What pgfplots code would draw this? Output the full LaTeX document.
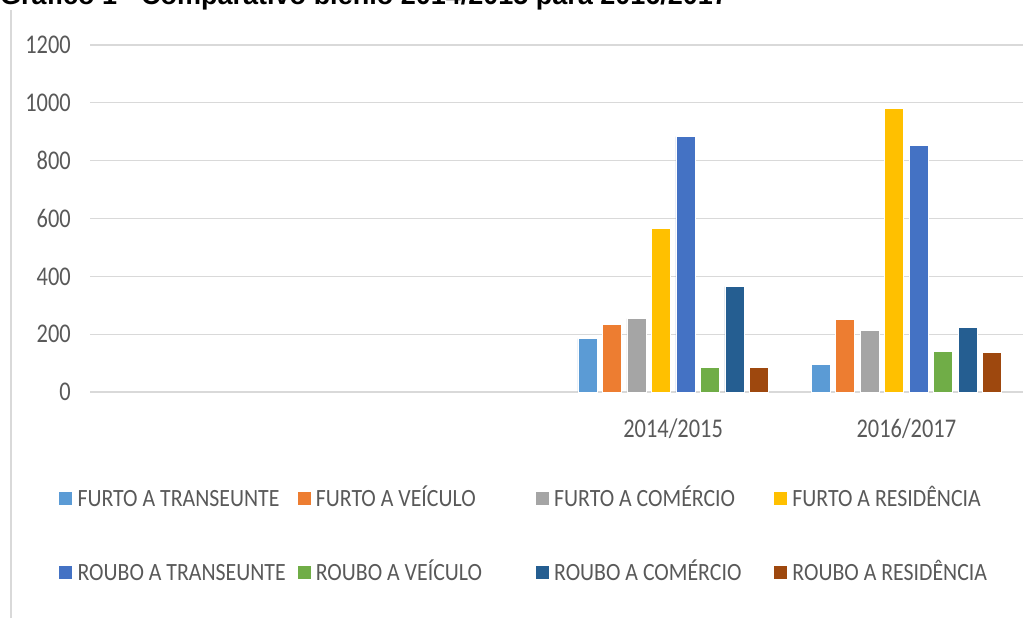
\documentclass[border=0pt]{standalone}
\usepackage{pgfplots}
\pgfplotsset{compat=1.18}
\usepackage{fontspec}
\setmainfont{Carlito}[FakeStretch=0.83]
\newfontfamily\legfont{Carlito}[FakeStretch=0.88]
\newfontfamily\titlefont{Liberation Sans}
\definecolor{cFT}{HTML}{5B9BD5}
\definecolor{cFV}{HTML}{ED7D31}
\definecolor{cFC}{HTML}{A5A5A5}
\definecolor{cFR}{HTML}{FFC000}
\definecolor{cRT}{HTML}{4472C4}
\definecolor{cRV}{HTML}{70AD47}
\definecolor{cRC}{HTML}{255E91}
\definecolor{cRR}{HTML}{9E480E}
\definecolor{gridc}{HTML}{D9D9D9}
\definecolor{txt}{HTML}{595959}
\newcommand{\LE}[1]{\makebox[220pt][l]{#1}}
\begin{document}
\begin{tikzpicture}
\node[anchor=base west, inner sep=0pt, font=\titlefont\bfseries\fontsize{27}{27}\selectfont] at (0pt,616pt) {Gráfico 1 - Comparativo biênio 2014/2015 para 2016/2017};
\draw[gridc, line width=2pt] (10.5pt,3pt) -- (10.5pt,611pt);
\begin{axis}[
  at={(90pt,229pt)}, anchor=south west,
  scale only axis, width=933pt, height=347pt,
  xmin=-0.5, xmax=3.5, ymin=0, ymax=1200,
  ytick={0,200,...,1200},
  xtick={2,3}, xticklabels={2014/2015,2016/2017},
  /pgf/number format/1000 sep={},
  /pgf/number format/assume math mode=true,
  axis line style={draw=none},
  major tick length=0pt, tick style={draw=none},
  ymajorgrids, grid style={gridc, line width=1.2pt},
  ticklabel style={font=\fontsize{27}{27}\selectfont, text=txt},
  yticklabel style={anchor=east, inner sep=0pt, xshift=-19pt},
  xticklabel style={anchor=base, inner sep=0pt, yshift=-45pt},
  ybar, bar width=0.0815,
  every axis plot/.append style={draw=white, line width=0.6pt},
  legend columns=4,
  legend image code/.code={\path[#1, draw=none] (0pt,-6.5pt) rectangle (13pt,6.5pt); \path (18pt,0pt);},
  legend style={draw=none, fill=none, inner sep=0pt, column sep=0pt, row sep=49.8pt,
    at={(axis description cs:-0.0332,-0.2709)}, anchor=north west,
    font=\legfont\fontsize{24.8}{24.8}\selectfont, text=txt,
    cells={anchor=center},
    nodes={inner sep=0pt, text height=20pt, text depth=4.2pt}},
]
\addplot[fill=cFT, bar shift=-0.3675] coordinates {(2,185) (3,96)};
\addlegendentry{\LE{FURTO A TRANSEUNTE}}
\addplot[fill=cFV, bar shift=-0.2625] coordinates {(2,234) (3,250)};
\addlegendentry{\LE{FURTO A VEÍCULO}}
\addplot[fill=cFC, bar shift=-0.1575] coordinates {(2,254) (3,214)};
\addlegendentry{\LE{FURTO A COMÉRCIO}}
\addplot[fill=cFR, bar shift=-0.0525] coordinates {(2,565) (3,981)};
\addlegendentry{\LE{FURTO A RESIDÊNCIA}}
\addplot[fill=cRT, bar shift=0.0525] coordinates {(2,883) (3,853)};
\addlegendentry{\LE{ROUBO A TRANSEUNTE}}
\addplot[fill=cRV, bar shift=0.1575] coordinates {(2,85) (3,140)};
\addlegendentry{\LE{ROUBO A VEÍCULO}}
\addplot[fill=cRC, bar shift=0.2625] coordinates {(2,364) (3,224)};
\addlegendentry{\LE{ROUBO A COMÉRCIO}}
\addplot[fill=cRR, bar shift=0.3675] coordinates {(2,85) (3,136)};
\addlegendentry{\LE{ROUBO A RESIDÊNCIA}}
\end{axis}
\pgfresetboundingbox
\path[use as bounding box] (0pt,0pt) rectangle (1035pt,621pt);
\end{tikzpicture}
\end{document}
